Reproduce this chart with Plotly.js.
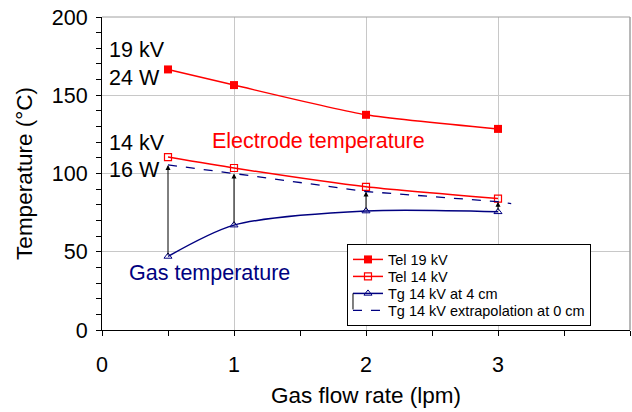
<!DOCTYPE html>
<html>
<head>
<meta charset="utf-8">
<script src="https://cdn.plot.ly/plotly-3.0.1.min.js"></script>
<style>html,body{margin:0;padding:0;background:#fff;}#chart{width:632px;height:412px;}</style>
</head>
<body>
<div id="chart"></div>
<script>
// Data
const flowRate = [0.5, 1, 2, 3];
const tel19 = [166.5, 156.5, 137.5, 128.5];
const tel14 = [110.5, 103.5, 91.5, 84];
const tg14 = [47, 67, 76, 75.5];
const extrapX = [0.5, 1, 2, 3, 3.1];
const extrapY = [105.5, 100, 88.5, 82, 80.8];
const seriesNames = ['Tel 19 kV', 'Tel 14 kV', 'Tg 14 kV at 4 cm', 'Tg 14 kV extrapolation at 0 cm'];

const RED = '#ff0000';
const NAVY = '#000080';
const FONT = 'Liberation Sans, Arial, sans-serif';

const traces = [
  {x: flowRate, y: tel19, name: seriesNames[0], mode: 'lines+markers',
   line: {color: RED, width: 1.5, shape: 'spline', smoothing: 0.6},
   marker: {symbol: 'square', size: 8, color: RED}},
  {x: flowRate, y: tel14, name: seriesNames[1], mode: 'lines+markers',
   line: {color: RED, width: 1.5, shape: 'spline', smoothing: 0.6},
   marker: {symbol: 'square-open', size: 7, color: RED, line: {width: 1.2}}},
  {x: flowRate, y: tg14, name: seriesNames[2], mode: 'lines+markers',
   line: {color: NAVY, width: 1.5, shape: 'spline', smoothing: 0.8},
   marker: {symbol: 'triangle-up-open', size: 7, color: NAVY, line: {width: 1}}},
  {x: extrapX, y: extrapY, name: seriesNames[3], mode: 'lines',
   line: {color: NAVY, width: 1.3, dash: 'dash'}}
];

const annotations = [];
// vertical arrows from gas temperature up to the extrapolated value
flowRate.forEach((fx, i) => {
  const j = extrapX.indexOf(fx);
  annotations.push({
    x: fx, y: extrapY[j], ax: fx, ay: tg14[i], xref: 'x', yref: 'y', axref: 'x', ayref: 'y',
    showarrow: true, arrowhead: 2, arrowsize: 1, arrowwidth: 1, arrowcolor: '#000', standoff: 0, startstandoff: 0, text: ''
  });
});
const labels = [
  {text: '19 kV', x: 0.045, y: 179, color: '#000'},
  {text: '24 W', x: 0.045, y: 161, color: '#000'},
  {text: '14 kV', x: 0.045, y: 119.5, color: '#000'},
  {text: '16 W', x: 0.045, y: 102, color: '#000'},
  {text: 'Electrode temperature', x: 0.826, y: 121, color: RED},
  {text: 'Gas temperature', x: 0.2, y: 36.5, color: NAVY}
];
labels.forEach(l => annotations.push({
  text: l.text, x: l.x, y: l.y, xref: 'x', yref: 'y', xanchor: 'left', yanchor: 'middle',
  showarrow: false, borderpad: 0, font: {family: FONT, size: 21.5, color: l.color}
}));

const layout = {
  width: 632, height: 412,
  margin: {l: 102, r: 2, t: 17, b: 82},
  paper_bgcolor: '#fff', plot_bgcolor: '#fff',
  font: {family: FONT, size: 21.5, color: '#000'},
  showlegend: true,
  legend: {x: 0.464, y: 0.2748, xanchor: 'left', yanchor: 'top', bgcolor: '#fff',
    bordercolor: '#000', borderwidth: 1, font: {family: FONT, size: 14.5, color: '#000'},
    tracegroupgap: 0, itemwidth: 30},
  xaxis: {range: [0, 4], dtick: 1, tick0: 0, showgrid: true, gridcolor: '#c8c8c8', gridwidth: 1,
    showline: true, linecolor: '#000', linewidth: 1, ticks: 'outside', ticklen: 5, tickcolor: '#000',
    zeroline: false, tickfont: {size: 21.5}, ticklabelstandoff: 10,
    minor: {dtick: 0.5, ticks: 'outside', ticklen: 5, tickcolor: '#000', showgrid: false},
    title: {text: 'Gas flow rate (lpm)', font: {size: 22.5}, standoff: 11}},
  yaxis: {range: [0, 200], dtick: 50, tick0: 0, showgrid: true, gridcolor: '#c8c8c8', gridwidth: 1,
    showline: true, linecolor: '#000', linewidth: 1, ticks: 'outside', ticklen: 5, tickcolor: '#000',
    zeroline: false, tickfont: {size: 21.5}, ticklabelstandoff: 4,
    minor: {dtick: 10, ticks: 'outside', ticklen: 5, tickcolor: '#000', showgrid: false},
    title: {text: 'Temperature (°C)', font: {size: 22.5}, standoff: 12}},
  shapes: [
    {type: 'line', xref: 'paper', yref: 'paper', x0: 0, x1: 1, y0: 1, y1: 1, line: {color: '#a0a0a0', width: 1}},
    {type: 'line', xref: 'paper', yref: 'paper', x0: 1, x1: 1, y0: 0, y1: 1, line: {color: '#a0a0a0', width: 1.5}}
  ],
  annotations: annotations
};

const gd = document.getElementById('chart');
Plotly.newPlot(gd, traces, layout, {displayModeBar: false, staticPlot: true}).then(() => {
  // tighten legend row spacing to match the reference (about 17 px per row)
  try {
    const items = Array.from(gd.querySelectorAll('.legend .traces'));
    const parse = el => {
      const m = /translate\(\s*([-\d.]+)[ ,]+([-\d.]+)/.exec(el.getAttribute('transform') || '');
      return m ? [parseFloat(m[1]), parseFloat(m[2])] : [0, 0];
    };
    if (items.length > 1) {
      const p0 = parse(items[0]);
      const p1 = parse(items[1]);
      const oldStep = p1[1] - p0[1];
      const step = 17;
      const y0 = p0[1] - 1.5;
      items.forEach((el, i) => {
        const p = parse(el);
        el.setAttribute('transform', 'translate(' + p[0] + ',' + (y0 + i * step) + ')');
      });
      const bg = gd.querySelector('.legend .bg');
      if (bg) {
        const h = parseFloat(bg.getAttribute('height'));
        bg.setAttribute('height', h - (oldStep - step) * (items.length - 1) - 3);
      }
      // connector drawn by the source in its legend between the two gas temperature samples
      const ns = 'http://www.w3.org/2000/svg';
      const ln = document.createElementNS(ns, 'line');
      const x = p0[0] + 5;
      ln.setAttribute('x1', x); ln.setAttribute('x2', x);
      ln.setAttribute('y1', y0 + 2 * step); ln.setAttribute('y2', y0 + 3 * step - 1);
      ln.setAttribute('stroke', '#000'); ln.setAttribute('stroke-width', '1');
      items[0].parentNode.appendChild(ln);
    }
  } catch (e) {}
});
</script>
</body>
</html>
